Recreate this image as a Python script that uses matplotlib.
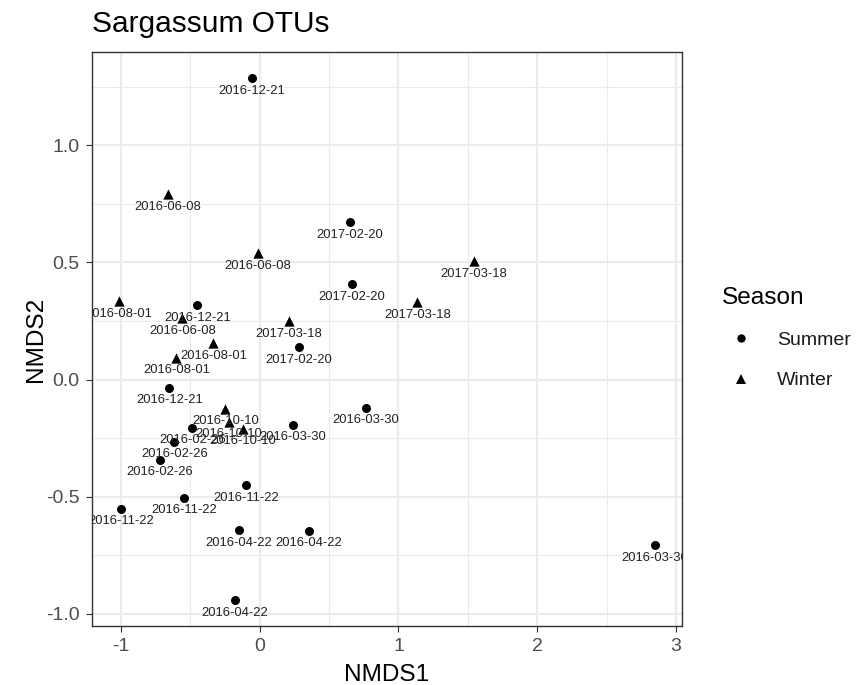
import matplotlib
matplotlib.use('Agg')
import matplotlib.pyplot as plt
from matplotlib.lines import Line2D

plt.rcParams['font.family'] = ['Liberation Sans', 'DejaVu Sans']

# ---- data ----
dates = ['2016-12-21', '2016-06-08', '2017-02-20', '2016-06-08', '2017-03-18',
         '2017-02-20', '2016-08-01', '2017-03-18', '2016-12-21', '2016-06-08',
         '2017-03-18', '2016-08-01', '2017-02-20', '2016-08-01', '2016-12-21',
         '2016-10-10', '2016-03-30', '2016-10-10', '2016-02-26', '2016-10-10',
         '2016-03-30', '2016-02-26', '2016-02-26', '2016-11-22', '2016-11-22',
         '2016-11-22', '2016-04-22', '2016-04-22', '2016-04-22', '2016-03-30']
season = ['Summer', 'Winter', 'Summer', 'Winter', 'Winter',
          'Summer', 'Winter', 'Winter', 'Summer', 'Winter',
          'Winter', 'Winter', 'Summer', 'Winter', 'Summer',
          'Winter', 'Summer', 'Winter', 'Summer', 'Winter',
          'Summer', 'Summer', 'Summer', 'Summer', 'Summer',
          'Summer', 'Summer', 'Summer', 'Summer', 'Summer']
nmds1 = [-0.054, -0.663, 0.652, -0.011, 1.545,
         0.663, -1.014, 1.136, -0.448, -0.556,
         0.211, -0.333, 0.283, -0.599, -0.649,
         -0.247, 0.763, -0.219, -0.484, -0.118,
         0.240, -0.613, -0.720, -0.097, -0.541,
         -1.000, -0.147, 0.355, -0.176, 2.849]
nmds2 = [1.286, 0.791, 0.671, 0.538, 0.504,
         0.406, 0.333, 0.329, 0.316, 0.261,
         0.248, 0.154, 0.137, 0.094, -0.034,
         -0.124, -0.120, -0.179, -0.205, -0.209,
         -0.192, -0.265, -0.342, -0.449, -0.504,
         -0.551, -0.641, -0.645, -0.940, -0.705]

seasons = ['Summer', 'Winter']
markers = {'Summer': 'o', 'Winter': '^'}
sizes = {'Summer': 42, 'Winter': 55}

x_ticks = [-1, 0, 1, 2, 3]
x_ticklabels = ['-1', '0', '1', '2', '3']
y_ticks = [-1.0, -0.5, 0.0, 0.5, 1.0]
y_ticklabels = ['-1.0', '-0.5', '0.0', '0.5', '1.0']

# ---- figure ----
fig = plt.figure(figsize=(8.56, 6.85), dpi=100)
ax = fig.add_axes([0.10748, 0.08613, 0.68925, 0.83796])

for s in seasons:
    xs = [x for x, ss in zip(nmds1, season) if ss == s]
    ys = [y for y, ss in zip(nmds2, season) if ss == s]
    ax.scatter(xs, ys, marker=markers[s], s=sizes[s], color='black',
               linewidths=0, zorder=3)

for d, x, y in zip(dates, nmds1, nmds2):
    ax.annotate(d, (x, y), xytext=(0, -11.3), textcoords='offset points',
                ha='center', va='baseline', fontsize=9.4, color='#222222',
                clip_on=True, zorder=4)

# limits with 5% expansion like ggplot
xr = max(nmds1) - min(nmds1)
yr = max(nmds2) - min(nmds2)
ax.set_xlim(min(nmds1) - 0.05 * xr, max(nmds1) + 0.05 * xr)
ax.set_ylim(min(nmds2) - 0.05 * yr, max(nmds2) + 0.05 * yr)

ax.set_xticks(x_ticks)
ax.set_xticklabels(x_ticklabels)
ax.set_yticks(y_ticks)
ax.set_yticklabels(y_ticklabels)
ax.set_xticks([-0.5, 0.5, 1.5, 2.5], minor=True)
ax.set_yticks([-0.75, -0.25, 0.25, 0.75, 1.25], minor=True)

ax.grid(True, which='major', color='#EBEBEB', linewidth=1.5)
ax.grid(True, which='minor', color='#EBEBEB', linewidth=0.75)
ax.set_axisbelow(True)

for sp in ax.spines.values():
    sp.set_color('#333333')
    sp.set_linewidth(1.0)

ax.tick_params(which='major', length=4.3, width=0.8, color='#333333',
               labelcolor='#4D4D4D', labelsize=14, pad=4.5)
ax.tick_params(which='minor', length=0)

ax.set_xlabel('NMDS1', fontsize=17.6, color='black')
ax.xaxis.set_label_coords(0.5, -0.0958)
ax.xaxis.label.set_va('baseline')
ax.set_ylabel('NMDS2', fontsize=17.6, color='black')
ax.yaxis.set_label_coords(-0.0847, 0.5)
ax.yaxis.label.set_va('baseline')

fig.text(0.1075, 0.953, 'Sargassum OTUs', fontsize=21.5, ha='left',
         va='baseline', color='black')

handles = [Line2D([], [], marker='o', ls='', color='black', markersize=6,
                  markeredgewidth=0),
           Line2D([], [], marker='^', ls='', color='black', markersize=6.6,
                  markeredgewidth=0)]
leg = ax.legend(handles, seasons, title='Season', loc='upper left',
                bbox_to_anchor=(0.8201, 0.6102), bbox_transform=fig.transFigure,
                frameon=False, fontsize=14, title_fontsize=17.6,
                alignment='left', labelspacing=1.16, handlelength=1.96,
                handletextpad=0.88, borderpad=1.03, borderaxespad=0)
for t in leg.get_texts():
    t.set_color('#1A1A1A')

fig.savefig('out.png', dpi=100)
